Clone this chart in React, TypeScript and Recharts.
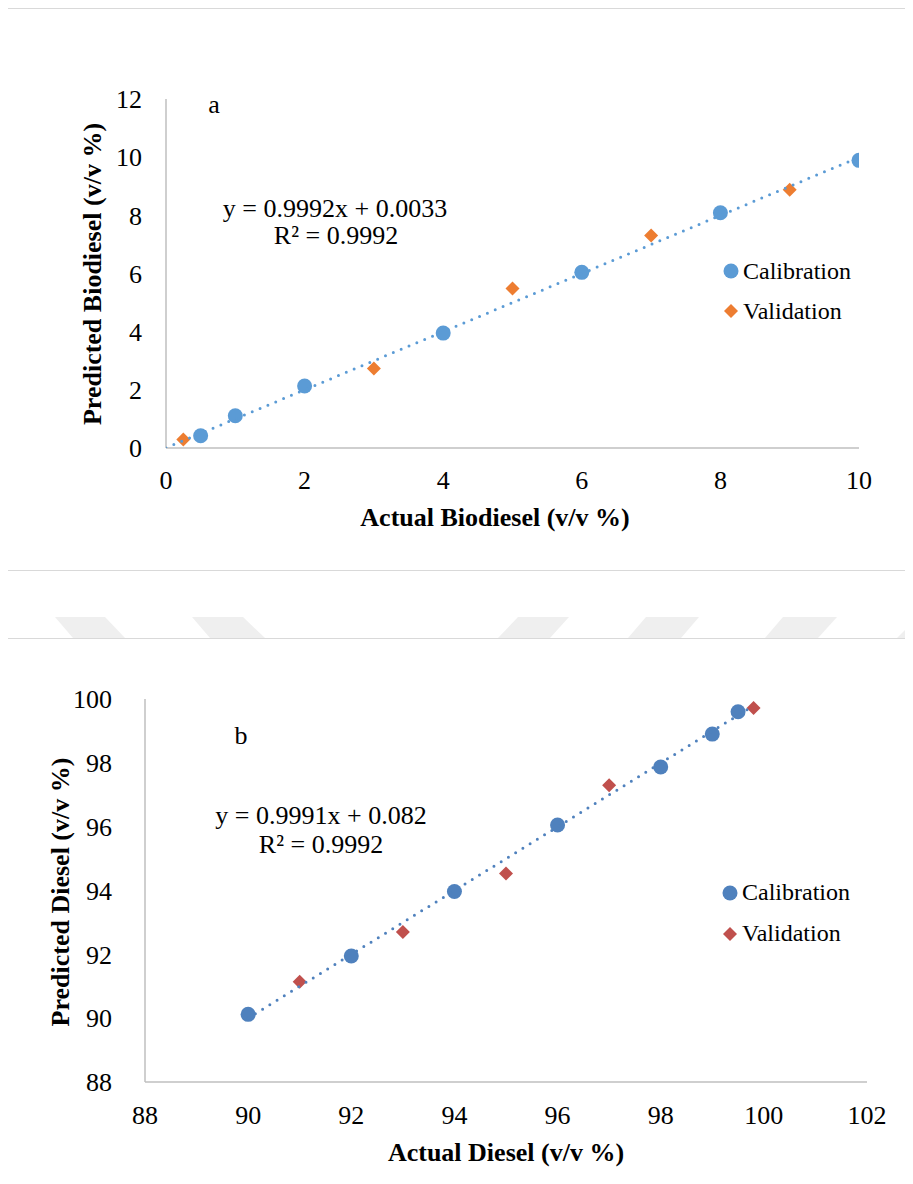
import React from "react";
import { Legend, Scatter, ScatterChart, XAxis, YAxis } from "recharts";

const FONT = "Liberation Serif, Times New Roman, serif";

// Panel a: biodiesel
const CAL_A_X = [0.5, 1, 2, 4, 6, 8, 10];
const CAL_A_Y = [0.42, 1.11, 2.13, 3.95, 6.04, 8.09, 9.89];
const VAL_A_X = [0.25, 3, 5, 7, 9];
const VAL_A_Y = [0.29, 2.73, 5.48, 7.31, 8.88];
const SLOPE_A = 0.9992;
const INTERCEPT_A = 0.0033;
const X_TICKS_A = [0, 2, 4, 6, 8, 10];
const Y_TICKS_A = [0, 2, 4, 6, 8, 10, 12];

// Panel b: diesel
const CAL_B_X = [90, 92, 94, 96, 98, 99, 99.5];
const CAL_B_Y = [90.12, 91.95, 93.97, 96.05, 97.87, 98.9, 99.6];
const VAL_B_X = [91, 93, 95, 97, 99.8];
const VAL_B_Y = [91.14, 92.7, 94.53, 97.3, 99.72];
const SLOPE_B = 0.9991;
const INTERCEPT_B = 0.082;
const X_TICKS_B = [88, 90, 92, 94, 96, 98, 100, 102];
const Y_TICKS_B = [88, 90, 92, 94, 96, 98, 100];

const zip = (xs: number[], ys: number[]) => xs.map((x, i) => ({ x, y: ys[i] }));

// trendline drawn over the data x range, like Excel does
const trend = (xs: number[], slope: number, intercept: number) => {
  const lo = Math.min(...xs);
  const hi = Math.max(...xs);
  return [lo, hi].map((x) => ({ x, y: slope * x + intercept }));
};

const Dot = (color: string) => (p: any) =>
  <circle cx={p.cx} cy={p.cy} r={7.5} fill={color} />;

const Diamond = (color: string) => (p: any) => {
  const h = 7;
  return (
    <polygon
      points={`${p.cx},${p.cy - h} ${p.cx + h},${p.cy} ${p.cx},${p.cy + h} ${p.cx - h},${p.cy}`}
      fill={color}
    />
  );
};

function LegendBox({ payload, rowHeight }: any) {
  const items = (payload || []).filter((e: any) => e.type !== "none");
  return (
    <div style={{ fontFamily: FONT, fontSize: 24, color: "#000" }}>
      {items.map((e: any) => (
        <div key={e.value} style={{ display: "flex", alignItems: "center", height: rowHeight }}>
          <svg width={16} height={16} style={{ marginRight: 4 }}>
            {e.value === "Calibration" ? (
              <circle cx={8} cy={8} r={7.5} fill={e.color} />
            ) : (
              <polygon points="8,1 15,8 8,15 1,8" fill={e.color} />
            )}
          </svg>
          <span>{e.value}</span>
        </div>
      ))}
    </div>
  );
}

type PanelProps = {
  top: number;
  height: number;
  margin: { top: number; right: number; bottom: number; left: number };
  xDomain: [number, number];
  yDomain: [number, number];
  xTicks: number[];
  yTicks: number[];
  yTickMargin: number;
  xTickMargin: number;
  cal: { x: number; y: number }[];
  val: { x: number; y: number }[];
  fit: { x: number; y: number }[];
  calColor: string;
  valColor: string;
  legend: { left: number; top: number; row: number };
};

function Panel(p: PanelProps) {
  const tick = { fontFamily: FONT, fontSize: 26, fill: "#000" };
  const axisLine = { stroke: "#bfbfbf", strokeWidth: 1.5 };
  return (
    <div style={{ position: "absolute", left: 0, top: p.top }}>
      <ScatterChart width={913} height={p.height} margin={p.margin}>
        <XAxis
          type="number"
          dataKey="x"
          domain={p.xDomain}
          ticks={p.xTicks}
          tick={tick}
          tickLine={false}
          tickSize={0}
          tickMargin={p.xTickMargin}
          axisLine={axisLine}
          height={60}
          allowDataOverflow
        />
        <YAxis
          type="number"
          dataKey="y"
          domain={p.yDomain}
          ticks={p.yTicks}
          tick={tick}
          tickLine={false}
          tickSize={0}
          tickMargin={p.yTickMargin}
          axisLine={axisLine}
          width={60}
          allowDataOverflow
        />
        <Scatter
          name="Calibration"
          data={p.cal}
          fill={p.calColor}
          shape={Dot(p.calColor)}
          isAnimationActive={false}
        />
        <Scatter
          name="Validation"
          data={p.val}
          fill={p.valColor}
          shape={Diamond(p.valColor)}
          isAnimationActive={false}
        />
        <Scatter
          name="Linear"
          data={p.fit}
          legendType="none"
          line={{
            stroke: p.calColor,
            strokeWidth: 3,
            strokeDasharray: "0 8.5",
            strokeLinecap: "round",
          }}
          shape={() => <g />}
          isAnimationActive={false}
        />
        <Legend
          layout="vertical"
          align="center"
          verticalAlign="middle"
          content={(props: any) => <LegendBox {...props} rowHeight={p.legend.row} />}
          wrapperStyle={{
            left: p.legend.left,
            top: p.legend.top,
            width: "auto",
            bottom: "auto",
            right: "auto",
          }}
        />
      </ScatterChart>
    </div>
  );
}

const txt = (left: number, top: number, rotate = 0): React.CSSProperties => ({
  position: "absolute",
  left,
  top,
  transform: `translate(-50%, -50%)${rotate ? ` rotate(${rotate}deg)` : ""}`,
  whiteSpace: "nowrap",
  fontFamily: FONT,
  fontSize: 26,
  color: "#000",
  lineHeight: 1,
});

const bold = (s: React.CSSProperties): React.CSSProperties => ({ ...s, fontWeight: "bold" });

const WATERMARK = [
  "55,617 105,617 125,638 73,638",
  "192,617 243,617 265,638 210,638",
  "518,617 569,617 550,638 498,638",
  "646,617 699,617 681,638 628,638",
  "783,617 837,617 818,638 765,638",
  "918,617 970,617 950,638 897,638",
];

export default function App() {
  return (
    <div
      style={{
        position: "relative",
        width: 913,
        height: 1184,
        margin: -8,
        overflow: "hidden",
        background: "#fff",
        fontFamily: FONT,
      }}
    >
      <svg width={913} height={1184} style={{ position: "absolute", left: 0, top: 0 }}>
        {WATERMARK.map((pts) => (
          <polygon key={pts} points={pts} fill="#efefef" />
        ))}
      </svg>
      <div
        style={{
          position: "absolute",
          left: 7,
          top: 8,
          width: 950,
          height: 561,
          border: "1.5px solid #d9d9d9",
        }}
      />
      <div
        style={{
          position: "absolute",
          left: 7,
          top: 638,
          width: 950,
          height: 700,
          border: "1.5px solid #d9d9d9",
        }}
      />

      <Panel
        top={0}
        height={570}
        margin={{ top: 99, right: 54, bottom: 62, left: 106 }}
        xDomain={[0, 10]}
        yDomain={[0, 12]}
        xTicks={X_TICKS_A}
        yTicks={Y_TICKS_A}
        yTickMargin={24}
        xTickMargin={23}
        cal={zip(CAL_A_X, CAL_A_Y)}
        val={zip(VAL_A_X, VAL_A_Y)}
        fit={trend([0, ...CAL_A_X], SLOPE_A, INTERCEPT_A)}
        calColor="#5B9BD5"
        valColor="#ED7D31"
        legend={{ left: 723, top: 251, row: 40 }}
      />
      <div style={txt(214, 105)}>a</div>
      <div style={txt(335, 209)}>y = {SLOPE_A}x + {INTERCEPT_A}</div>
      <div style={txt(336, 236)}>R² = 0.9992</div>
      <div style={bold(txt(93, 274, -90))}>Predicted Biodiesel (v/v %)</div>
      <div style={bold(txt(495, 518))}>Actual Biodiesel (v/v %)</div>

      <Panel
        top={600}
        height={584}
        margin={{ top: 99, right: 46, bottom: 42, left: 85 }}
        xDomain={[88, 102]}
        yDomain={[88, 100]}
        xTicks={X_TICKS_B}
        yTicks={Y_TICKS_B}
        yTickMargin={33}
        xTickMargin={24}
        cal={zip(CAL_B_X, CAL_B_Y)}
        val={zip(VAL_B_X, VAL_B_Y)}
        fit={trend([...CAL_B_X, ...VAL_B_X], SLOPE_B, INTERCEPT_B)}
        calColor="#4F81BD"
        valColor="#C0504D"
        legend={{ left: 722, top: 272, row: 41 }}
      />
      <div style={txt(241, 736)}>b</div>
      <div style={txt(321, 816)}>y = {SLOPE_B}x + {INTERCEPT_B}</div>
      <div style={txt(321, 845)}>R² = 0.9992</div>
      <div style={bold(txt(61, 892, -90))}>Predicted Diesel (v/v %)</div>
      <div style={bold(txt(506, 1153))}>Actual Diesel (v/v %)</div>
    </div>
  );
}
